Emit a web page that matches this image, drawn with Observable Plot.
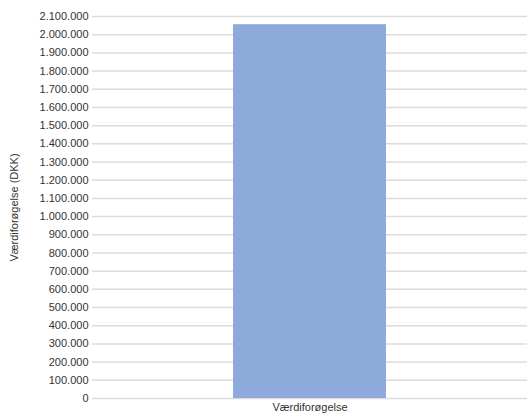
<!DOCTYPE html>
<html>
<head>
<meta charset="utf-8">
<script src="https://cdn.jsdelivr.net/npm/d3@7"></script>
<script src="https://cdn.jsdelivr.net/npm/@observablehq/plot@0.6"></script>
<style>
  html, body { margin: 0; padding: 0; background: #fff; }
  #chart svg { display: block; }
</style>
</head>
<body>
<div id="chart"></div>
<script>
const categories = ["Værdiforøgelse"];
const values = [2055000];
const yTicks = d3.range(0, 2100001, 100000);

const data = categories.map((c, i) => ({category: c, value: values[i]}));
const fmt = d3.formatLocale({decimal: ",", thousands: ".", grouping: [3], currency: ["", ""]}).format(",d");

const chart = Plot.plot({
  width: 527,
  height: 414,
  marginLeft: 92,
  marginRight: 0,
  marginTop: 16,
  marginBottom: 16,
  style: {fontFamily: "Liberation Sans, Arial, sans-serif", fontSize: "11px", color: "#444", background: "#fff"},
  x: {domain: categories, padding: 0.478, label: null},
  y: {domain: [0, 2100000], ticks: yTicks, label: null},
  marks: [
    Plot.gridY(yTicks, {stroke: "#dcdcdc", strokeOpacity: 1, strokeWidth: 1.5}),
    Plot.barY(data, {x: "category", y: "value", fill: "#8eaadb"}),
    Plot.axisY({ticks: yTicks, tickFormat: fmt, tickSize: 0, tickPadding: 4, fill: "#333", fontSize: 11,
      label: "Værdiforøgelse (DKK)", labelAnchor: "center", labelArrow: "none", labelOffset: 82}),
    Plot.axisX({tickSize: 0, tickPadding: 5, fill: "#333", fontSize: 11, label: null})
  ]
});
document.getElementById("chart").appendChild(chart);
</script>
</body>
</html>
